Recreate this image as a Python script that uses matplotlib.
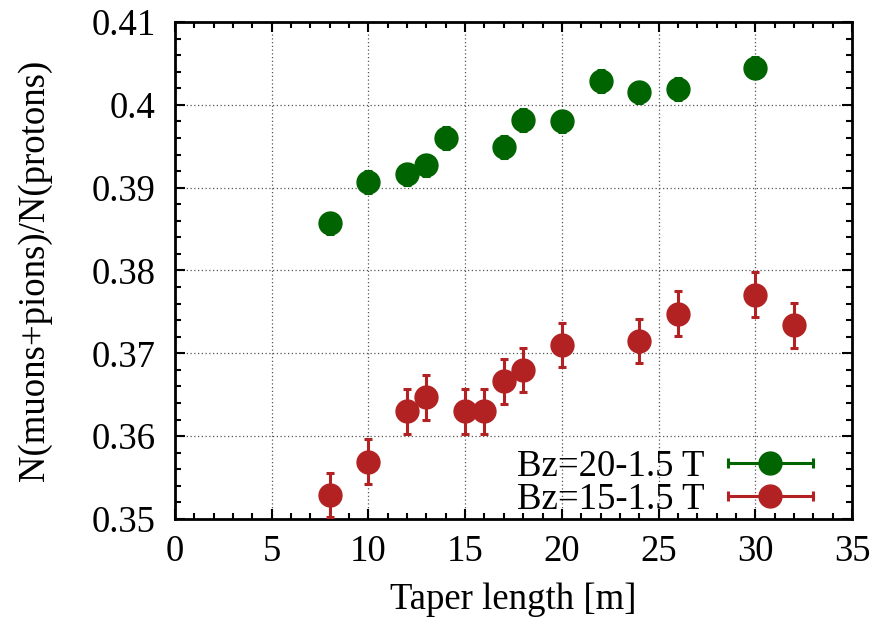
import matplotlib
matplotlib.use("Agg")
import matplotlib.pyplot as plt
from matplotlib.lines import Line2D
from matplotlib.legend_handler import HandlerLine2D, HandlerTuple
from matplotlib.ticker import MultipleLocator, FuncFormatter

# Bz = 20-1.5 T
taper_20 = [8, 10, 12, 13, 14, 17, 18, 20, 22, 24, 26, 30]
ratio_20 = [0.3857, 0.3907, 0.3916, 0.3927, 0.3960, 0.3949, 0.3982, 0.3980,
            0.4029, 0.4015, 0.4019, 0.4045]
err_20 = [0.0013] * len(taper_20)

# Bz = 15-1.5 T
taper_15 = [8, 10, 12, 13, 15, 16, 17, 18, 20, 24, 26, 30, 32]
ratio_15 = [0.3529, 0.3569, 0.3630, 0.3647, 0.3630, 0.3630, 0.3666, 0.3680,
            0.3710, 0.3715, 0.3748, 0.3771, 0.3734]
err_15 = [0.0027] * len(taper_15)

labels = ["Bz=20-1.5 T", "Bz=15-1.5 T"]
colors = ["#006400", "#b22222"]

FS = 26.5
plt.rcParams["font.family"] = ["Liberation Serif", "DejaVu Serif"]

fig = plt.figure(figsize=(8.78, 6.19), dpi=100)
ax = fig.add_axes([175 / 878, 1 - 519 / 619, 677 / 878, 497 / 619])

for x, y, e, c in [(taper_20, ratio_20, err_20, colors[0]),
                   (taper_15, ratio_15, err_15, colors[1])]:
    ax.errorbar(x, y, yerr=e, fmt="o", color=c, markersize=16.5, elinewidth=2.2,
                capsize=3, capthick=2.2, zorder=3)

ax.set_xlim(0, 35)
ax.set_ylim(0.35, 0.41)
ax.xaxis.set_major_locator(MultipleLocator(5))
ax.xaxis.set_minor_locator(MultipleLocator(1))
ax.yaxis.set_major_locator(MultipleLocator(0.01))
ax.yaxis.set_minor_locator(MultipleLocator(0.002))
ax.yaxis.set_major_formatter(FuncFormatter(lambda v, p: "%g" % round(v, 3)))
ax.tick_params(which="both", direction="in", top=True, right=True,
               labelsize=FS, width=1.5)
ax.tick_params(which="major", length=7.5)
ax.tick_params(which="minor", length=4.3)
ax.tick_params(axis="y", which="major", pad=14)
ax.tick_params(axis="x", which="major", pad=11)
for s in ax.spines.values():
    s.set_linewidth(2)
ax.grid(True, which="major", linestyle=(0, (1, 2)), color="#555555", linewidth=0.9)

ax.set_xlabel("Taper length [m]", fontsize=FS, labelpad=10)
ax.set_ylabel("N(muons+pions)/N(protons)", fontsize=FS, labelpad=28)

# gnuplot-style legend keys: line with end caps and a marker in the middle
handles = []
hmap = {}
for c in colors:
    bar = Line2D([], [], color=c, linewidth=2.2, marker="|", markersize=7,
                 markeredgewidth=2.2)
    dot = Line2D([], [], color=c, marker="o", markersize=16.5, linestyle="none")
    hmap[bar] = HandlerLine2D(numpoints=2)
    hmap[dot] = HandlerLine2D(numpoints=1)
    handles.append((bar, dot))
for h in handles:
    hmap[h] = HandlerTuple(ndivide=1)

ax.legend(handles, labels, handler_map=hmap, loc="lower right",
          markerfirst=False, frameon=False, fontsize=FS, handlelength=2.9,
          labelspacing=-0.05, handletextpad=0.35, borderaxespad=0.0,
          bbox_to_anchor=(0.98, -0.025))

fig.savefig("out.png", dpi=100)
